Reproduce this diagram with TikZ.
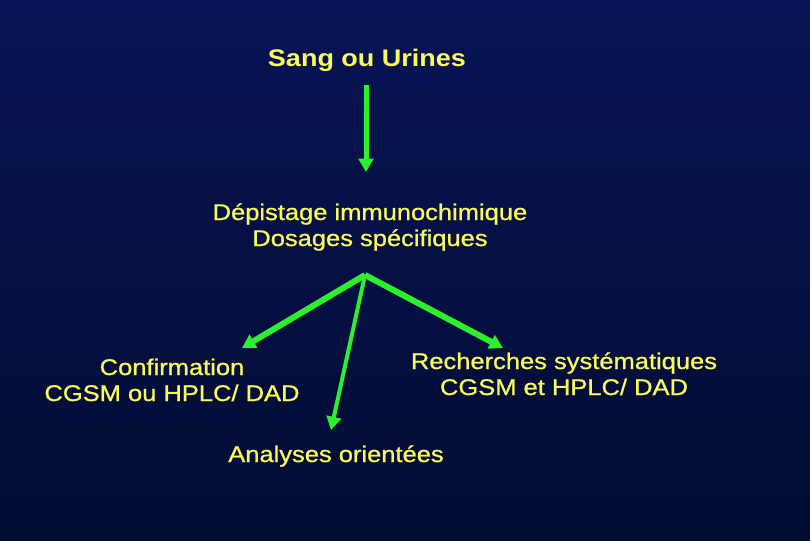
\documentclass[tikz,border=0pt]{standalone}
\usepackage{fontspec}
\usepackage{graphicx}
\setmainfont{Liberation Sans}
\newfontfamily\semibold[FakeBold=0.8]{Liberation Sans}
\usetikzlibrary{arrows.meta}
\definecolor{bgtop}{RGB}{8,20,85}
\definecolor{bgmid}{RGB}{0,52,168}
\definecolor{bgbot}{RGB}{2,12,50}
\definecolor{txtyellow}{RGB}{250,250,90}
\definecolor{arrowgreen}{RGB}{45,240,45}
\newcommand\widetext[1]{\scalebox{1.125}[1]{\begin{tabular}[t]{@{}c@{}}#1\end{tabular}}}
\begin{document}
\begin{tikzpicture}[x=0.75pt,y=-0.75pt,
  lbl/.style={text=txtyellow, inner sep=0pt, anchor=base, font=\fontsize{17}{19.5}\selectfont\semibold},
  title/.style={lbl, font=\fontsize{18}{20}\selectfont\bfseries},
  garrow/.style={draw=arrowgreen, line width=#1, -{Triangle[length=10pt,width=11pt]}},
]
\shade[top color=bgtop, middle color=bgmid, bottom color=bgbot] (0,0) rectangle (810,540);
\useasboundingbox (0,0) rectangle (810,540);

\node[title] (sang) at (367,66) {\widetext{Sang ou Urines}};
\node[lbl] (dep) at (370,220) {\widetext{Dépistage immunochimique\\Dosages spécifiques}};
\node[lbl] (conf) at (172,375) {\widetext{Confirmation\\CGSM ou HPLC/ DAD}};
\node[lbl] (rech) at (564,369) {\widetext{Recherches systématiques\\CGSM et HPLC/ DAD}};
\node[lbl] (anal) at (336,462) {\widetext{Analyses orientées}};

\coordinate (vtop) at (366,85);
\coordinate (vtip) at (366,172);
\coordinate (hub) at (365,275);
\coordinate (tipL) at (242,348);
\coordinate (tipR) at (503,348);
\coordinate (tipM) at (331,430);

\draw[garrow=3.75pt] (vtop) -- (vtip);
\draw[garrow=4.5pt] (hub) -- (tipL);
\draw[garrow=4.5pt] (hub) -- (tipR);
\draw[garrow=3pt] (hub) -- (tipM);
\end{tikzpicture}
\end{document}
